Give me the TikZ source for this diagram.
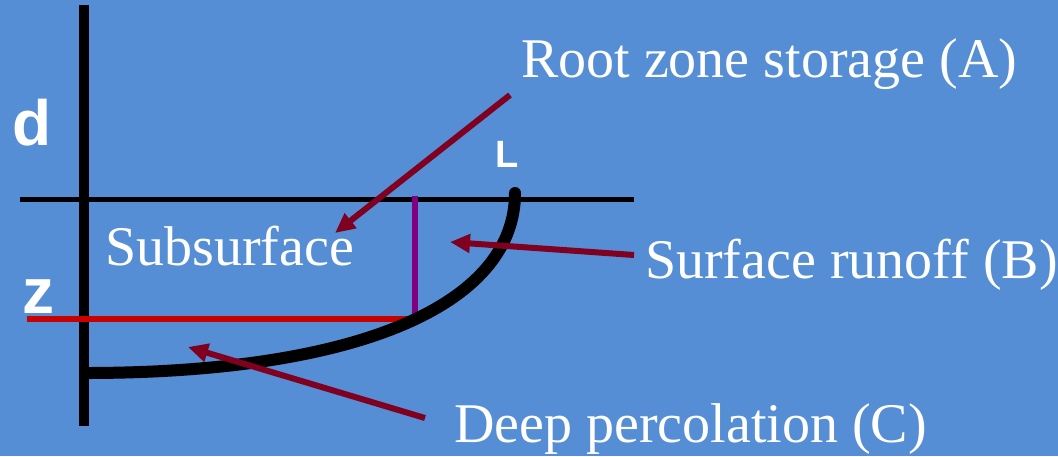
\documentclass[tikz,border=0pt]{standalone}
\usepackage{fontspec}
\setmainfont{Liberation Serif}
\newfontfamily\labfont{Liberation Sans}
\usetikzlibrary{arrows.meta}
\definecolor{bgblue}{RGB}{85,142,213}
\definecolor{arrred}{RGB}{128,0,32}
\definecolor{zred}{RGB}{200,0,0}
\definecolor{vpurple}{RGB}{128,0,128}
\tikzset{
  lbl/.style={text=white, inner sep=0pt, anchor=base west, font=\fontsize{56}{60}\selectfont},
  axlbl/.style={text=white, inner sep=0pt, anchor=base west, font=\labfont\bfseries\fontsize{64}{68}\selectfont},
  callout/.style={draw=arrred, line width=6pt, -{Triangle[length=20pt,width=18pt]}},
}
\begin{document}
\begin{tikzpicture}[x=1pt,y=-1pt]
\fill[bgblue] (0,0) rectangle (1058,456);
\useasboundingbox (0,0) rectangle (1058,456);
% axes
\coordinate (vtop) at (84,5);
\coordinate (vbot) at (84,426);
\coordinate (hl) at (20,199);
\coordinate (hr) at (634,199);
\draw[line width=5pt] (hl) -- (hr);
\draw[line width=10pt] (vtop) -- (vbot);
% z line and vertical
\coordinate (zl) at (27,319);
\coordinate (zr) at (418,319);
\coordinate (pt) at (415,196);
\coordinate (pb) at (415,322);
\draw[zred, line width=5.5pt] (zl) -- (zr);
\draw[vpurple, line width=5.5pt] (pt) -- (pb);
% curve
\coordinate (cs) at (90,373);
\coordinate (ce) at (515,193);
\draw[line width=12pt, line cap=round] (cs) .. controls (370,372) and (515,300) .. (ce);
% labels
\node[axlbl] (d) at (12,145) {d};
\node[axlbl] (z) at (22,313) {z};
\node[text=white, inner sep=0pt, anchor=base west, font=\labfont\bfseries\fontsize{38}{40}\selectfont] (L) at (495,167) {L};
\node[lbl] (sub) at (105,265) {Subsurface};
\node[lbl] (root) at (521,77) {Root zone storage (A)};
\node[lbl] (surf) at (645,278) {Surface runoff (B)};
\node[lbl] (deep) at (454,442) {Deep percolation (C)};
% callouts
\coordinate (atail) at (510,95);
\coordinate (atip) at (335,233);
\coordinate (btail) at (634,255);
\coordinate (btip) at (450,242);
\coordinate (ctail) at (425,418);
\coordinate (ctip) at (188,347);
\draw[callout] (atail) -- (atip);
\draw[callout] (btail) -- (btip);
\draw[callout] (ctail) -- (ctip);
\end{tikzpicture}
\end{document}
